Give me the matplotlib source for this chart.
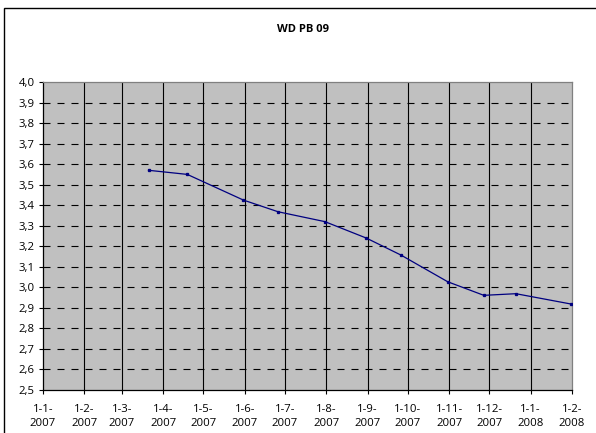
import matplotlib
matplotlib.use("Agg")
import matplotlib.pyplot as plt
from matplotlib.patches import Rectangle
from datetime import date

plt.rcParams['font.family'] = ['Open Sans', 'DejaVu Sans']

# meetpunten WD PB 09
meet_datum = [date(2007, 3, 21), date(2007, 4, 19), date(2007, 5, 31), date(2007, 6, 26),
              date(2007, 7, 31), date(2007, 8, 31), date(2007, 9, 26), date(2007, 10, 31),
              date(2007, 11, 27), date(2007, 12, 21), date(2008, 1, 31)]
meet_waarde = [3.57, 3.55, 3.425, 3.368, 3.32, 3.24, 3.157, 3.027, 2.961, 2.969, 2.919]

# maandgrenzen voor de x-as
maanden = [date(2007, m, 1) for m in range(1, 13)] + [date(2008, 1, 1), date(2008, 2, 1)]
y_ticks = [round(2.5 + 0.1 * i, 1) for i in range(16)]

fig = plt.figure(figsize=(5.96, 4.33), dpi=100)
ax = fig.add_axes([43 / 596, 43 / 433, 529 / 596, 308 / 433])
ax.set_facecolor('#C0C0C0')

# buitenrand van de grafiek
fig.patches.append(Rectangle((4 / 596, -0.1), 1.2, (433 - 8) / 433 + 0.1,
                             transform=fig.transFigure, fill=False,
                             edgecolor='black', linewidth=1.0, clip_on=False))

# rasterlijnen
for v in y_ticks[1:-1]:
    ax.axhline(v, color='black', linewidth=0.8, dashes=(6.3, 6.3), zorder=1)
for m in maanden[1:-1]:
    ax.axvline(m, color='black', linewidth=0.8, zorder=1)

ax.plot(meet_datum, meet_waarde, color='#000080', linewidth=0.9,
        marker='s', markersize=1.4, zorder=3)

ax.set_xlim(maanden[0], maanden[-1])
ax.set_ylim(2.5, 4.0)
ax.set_yticks(y_ticks)
ax.set_yticklabels([f"{v:.1f}".replace('.', ',') for v in y_ticks])
ax.set_xticks(maanden)
ax.set_xticklabels([f"{d.day}-{d.month}-\n{d.year}" for d in maanden])

ax.tick_params(axis='both', direction='out', length=3, width=0.8, colors='black',
               labelsize=8.2, pad=3)
ax.tick_params(axis='x', pad=7)
for t in ax.get_xticklabels():
    t.set_linespacing(1.35)

ax.spines['left'].set_color('black')
ax.spines['bottom'].set_color('black')
ax.spines['top'].set_color('#808080')
ax.spines['right'].set_color('#808080')
for s in ax.spines.values():
    s.set_linewidth(0.9)

fig.text(303 / 596, 1 - 29 / 433, 'WD PB 09', ha='center', va='center',
         fontsize=8, fontweight='bold')

fig.savefig('out.png', dpi=100)
